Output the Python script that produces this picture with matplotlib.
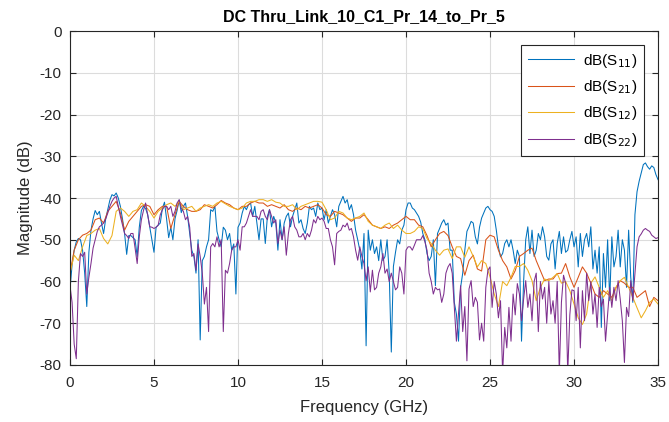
import numpy as np
import matplotlib
matplotlib.use('Agg')
import matplotlib.pyplot as plt

plt.rcParams['font.family'] = ['Liberation Sans', 'DejaVu Sans']
plt.rcParams['axes.unicode_minus'] = False

# S11 / S22 read every 0.125 GHz, S21 / S12 every 0.25 GHz
freq_fine = np.arange(281) * 0.125
freq_coarse = np.arange(141) * 0.25

s11 = [
    -62, -56, -52.5, -50.5, -49.7, -50, -52.5, -58,
    -66, -53, -47.7, -45, -43, -44, -43.2, -46,
    -48.5, -45, -42.8, -40.5, -39.2, -39.5, -38.8, -40,
    -42, -45, -48.5, -53.5, -49, -49, -49.5, -50,
    -54, -47, -43, -42, -42.5, -44, -47, -50,
    -53, -47, -46.5, -46, -42.5, -41, -45, -49.5,
    -47, -50, -45, -43, -40.5, -43.5, -42, -41.2,
    -44.4, -48.5, -52.5, -54, -58, -50, -74, -55,
    -54, -51.7, -50, -42.8, -43.2, -42, -48, -50,
    -51.7, -47, -47.7, -50, -48.5, -52.5, -51, -63,
    -47, -46, -43.6, -42, -42.8, -41.6, -41.2, -44.4,
    -42, -46, -50, -45, -45, -50.9, -44.4, -42.8,
    -46.9, -44.4, -46, -52.5, -45.2, -50, -46, -44.4,
    -43.6, -46.9, -44.4, -42.8, -41.2, -46, -45.2, -47.3,
    -48.5, -46, -42, -42.8, -42.4, -44.4, -41.2, -42.8,
    -42.4, -45.2, -42.8, -46, -44.4, -42.8, -44, -46.9,
    -42, -40.8, -39.6, -41.2, -40.4, -42.8, -41.6, -44,
    -47.7, -50, -52.5, -57, -48.5, -75.4, -47.7, -52.5,
    -50, -53.3, -51.7, -55, -50, -55, -54, -50,
    -58, -76.9, -56.4, -53, -50, -51, -47.7, -46.5,
    -42.8, -41.2, -41.2, -42.4, -42.8, -43.6, -44.4, -45.8,
    -48.5, -50, -53.3, -55, -54, -50, -61, -48.5,
    -47.3, -46, -45.2, -46.5, -46, -52.5, -52.5, -65,
    -67.8, -74.3, -61.4, -58, -52.5, -48, -46.9, -45.6,
    -46, -49.3, -51, -47, -44.8, -43.6, -42.4, -42,
    -42.8, -43.2, -44.4, -47.7, -51.7, -54.1, -53.3, -50.9,
    -50, -51.7, -50, -52.5, -55.7, -52.5, -54, -74.3,
    -60, -50, -46.9, -53.3, -47.7, -54, -52.5, -48.5,
    -50, -46.9, -49.3, -54, -54.9, -51, -50, -57,
    -50.9, -48, -53.3, -49.3, -53, -52.5, -50, -48,
    -51.7, -49.3, -56.5, -48.5, -54, -50, -48.5, -51.7,
    -46.9, -57, -52.5, -58, -51.7, -71, -53.3, -61.4,
    -50, -64.6, -49.3, -56.5, -54, -47.7, -56.5, -50,
    -52.5, -61.4, -47.7, -58.9, -65, -44, -38.5, -36,
    -34, -32, -31.6, -32.5, -33.1, -32.3, -32.7, -34.4,
    -35.6,
]

s22 = [
    -61, -65, -75, -78.5, -60, -53.3, -54, -53,
    -63, -59, -55.7, -52, -50, -48, -46.9, -46.5,
    -46, -45, -43.6, -42, -40.8, -40, -39.6, -42,
    -44.4, -46.5, -48.5, -49, -49.7, -48.5, -48.5, -52,
    -55.7, -49.3, -45.2, -43, -41.2, -44, -46.9, -47,
    -47.3, -47, -46.5, -44, -42.8, -42, -42, -42.8,
    -42, -44.4, -43.2, -41.2, -40.4, -42.5, -43.2, -45.2,
    -44.4, -47, -54, -53.3, -57.3, -51, -54, -58,
    -65.4, -61.4, -72, -51.7, -50.9, -51.7, -49.3, -51.7,
    -50, -72, -57.3, -58, -55.7, -52.5, -51.7, -51.7,
    -50, -52.5, -46.9, -46.9, -46, -44.4, -42.8, -44.4,
    -44.4, -44.4, -45.2, -43.2, -42.8, -44.4, -45.2, -42.8,
    -44.4, -46, -45.2, -50.9, -47.7, -50, -46.9, -53.7,
    -48.5, -45.2, -44.4, -46.9, -47.7, -49.3, -49.3, -48.5,
    -50, -48.5, -49.3, -47.7, -45.2, -46, -44.4, -45.2,
    -44.8, -45.6, -47.3, -47.3, -50, -51.7, -56, -48.5,
    -48, -47.7, -46.5, -46.9, -46, -47.7, -47.3, -49.3,
    -52.5, -54.9, -51.7, -54, -55.7, -59.8, -56.5, -62.5,
    -57.3, -62, -61.4, -58, -56.5, -53.3, -58, -57,
    -60, -58, -60, -62, -61.4, -56.5, -58, -63,
    -52.5, -51.7, -51.7, -52.5, -51.3, -50, -50, -50,
    -49, -50.5, -52.5, -58, -60, -63, -61.4, -62,
    -61.8, -65, -63, -58, -56.5, -55.7, -58, -66,
    -74.3, -67.8, -61, -72, -66, -79, -61.8, -59.8,
    -66, -63.8, -65, -74, -70, -74.3, -61.4, -57.3,
    -56.5, -66.2, -60, -63, -68.7, -64.6, -82, -71,
    -75.9, -66.2, -74.3, -63, -68, -60.5, -63, -69.4,
    -64.2, -59.8, -66.2, -63, -69.4, -60, -58, -72,
    -60, -64.2, -61.4, -70, -60, -67.8, -64.6, -70,
    -60, -82, -65, -58.5, -60.4, -82, -68, -62,
    -62.2, -69.4, -61.4, -75.9, -62.2, -69.4, -58, -64.6,
    -60, -67.8, -63, -71, -61.4, -66, -64.2, -74.3,
    -68, -61.4, -66.2, -61.4, -64.6, -59.8, -64.2, -69.4,
    -79.4, -66.2, -68.4, -59.8, -64.6, -58, -51.7, -49.3,
    -48.6, -47.7, -47.3, -47.7, -48, -48.9, -49.3, -49.7,
    -49.5,
]

s21 = [
    -58, -52.5, -50, -48.9, -48.5, -47.7, -45.2, -44.8,
    -46, -43.2, -42, -40.8, -43.6, -47.7, -45.6, -44.4,
    -43.2, -42, -41.6, -42, -44, -42.8, -42, -42,
    -47.3, -44, -40.8, -42, -42.8, -43.2, -43.2, -42.8,
    -41.6, -42, -42.4, -41.6, -40.6, -41.2, -41.6, -42.4,
    -42.8, -42, -42, -41.2, -40.8, -41.2, -41.2, -42,
    -41.6, -42, -42.4, -41.6, -42.8, -43.2, -42.4, -42.8,
    -42, -42.4, -42, -41.6, -42.4, -44, -44.4, -43.2,
    -43.6, -44, -44.8, -45.6, -44.8, -44.8, -44, -45.2,
    -46.5, -46.9, -47.3, -46.9, -47.3, -46.5, -46, -45.2,
    -44.4, -45.2, -45.2, -46.5, -46.9, -49, -51.7, -50,
    -48.5, -48, -49, -51.7, -54, -54.5, -58.5, -55,
    -53.7, -57, -57.5, -50, -48.9, -49.3, -52.5, -55,
    -56.5, -59.4, -57.4, -54, -53.3, -52.5, -52, -55,
    -57.4, -59.8, -59.4, -59.4, -58.1, -58, -55.7, -58.9,
    -61.4, -59, -56.5, -58, -60.4, -63, -63.8, -62.2,
    -63, -63.8, -61.4, -59.8, -60.4, -61.4, -61.4, -63.8,
    -63, -62.2, -66, -63.8, -64.6,
]

s12 = [
    -58, -53.7, -55, -51.7, -49, -48.5, -47.7, -47.3,
    -49.7, -51, -49, -43.2, -42.4, -43.2, -44.4, -43.2,
    -42.8, -41.2, -42, -43.2, -44.8, -43.2, -42.4, -41.6,
    -41.2, -42, -40.8, -42.8, -42.4, -42, -43.2, -42.4,
    -42, -41.6, -42, -41.2, -40.8, -41.4, -42, -42.4,
    -42.8, -42.4, -41.2, -40.8, -40.8, -40.4, -40.4, -40.8,
    -40.4, -41, -41.2, -42, -42, -41.6, -42.8, -42,
    -41.6, -41.2, -40.8, -40.8, -41, -42.8, -45.2, -44.8,
    -43.2, -43.6, -44.8, -45.2, -44.8, -44.4, -43.6, -45.6,
    -46.5, -46.9, -47.3, -46.5, -46, -47.3, -46.5, -47.7,
    -48.5, -48.5, -48, -46.9, -47.3, -49.7, -50.9, -52.5,
    -53.7, -52.5, -52.2, -54.5, -51.7, -51.7, -54.2, -51.7,
    -54, -56.5, -55, -55.7, -58.9, -63, -66, -60,
    -61, -59, -56.4, -56.4, -55.7, -57.3, -59.8, -64.6,
    -61.4, -59.4, -59.8, -59, -58.1, -60.4, -60, -62.2,
    -65.4, -68.7, -70.3, -67.8, -60.4, -58.9, -61.4, -63.8,
    -62.2, -64.6, -61.4, -59.8, -59, -61.4, -63.8, -66.3,
    -68.7, -67, -65, -64.2, -65.4,
]

series = [
    (freq_fine, s11, '#0072BD', 'dB(S$_{11}$)'),
    (freq_coarse, s21, '#D95319', 'dB(S$_{21}$)'),
    (freq_coarse, s12, '#EDB120', 'dB(S$_{12}$)'),
    (freq_fine, s22, '#7E2F8E', 'dB(S$_{22}$)'),
]

fig = plt.figure(figsize=(6.69, 4.22), dpi=100)
ax = fig.add_axes([0.1046, 0.1351, 0.8790, 0.7914])

for f, y, c, lab in series:
    ax.plot(f, y, color=c, linewidth=0.75, label=lab)

ax.set_xlim(0, 35)
ax.set_ylim(-80, 0)
ax.set_xticks(np.arange(0, 36, 5))
ax.set_yticks(np.arange(-80, 1, 10))
ax.grid(True, color='#dcdcdc', linewidth=0.8)
ax.set_axisbelow(True)
ax.tick_params(direction='in', top=True, right=True, labelsize=11, length=4,
               colors='#262626')
ax.tick_params(axis='x', pad=8)
ax.tick_params(axis='y', pad=6)
for sp in ax.spines.values():
    sp.set_color('#262626')
    sp.set_linewidth(0.8)

ax.set_xlabel('Frequency (GHz)', fontsize=12, color='#262626', labelpad=7)
ax.set_ylabel('Magnitude (dB)', fontsize=12, color='#262626', labelpad=5)
ax.set_title('DC Thru_Link_10_C1_Pr_14_to_Pr_5', fontsize=11.5,
             fontweight='bold', pad=7)

leg = ax.legend(loc='upper right', fontsize=11, fancybox=False,
                edgecolor='#262626', framealpha=1, handlelength=3.0,
                handletextpad=0.6, borderaxespad=0.9, labelspacing=0.55,
                borderpad=0.45)
leg.get_frame().set_linewidth(0.8)

fig.savefig('out.png', dpi=100)
